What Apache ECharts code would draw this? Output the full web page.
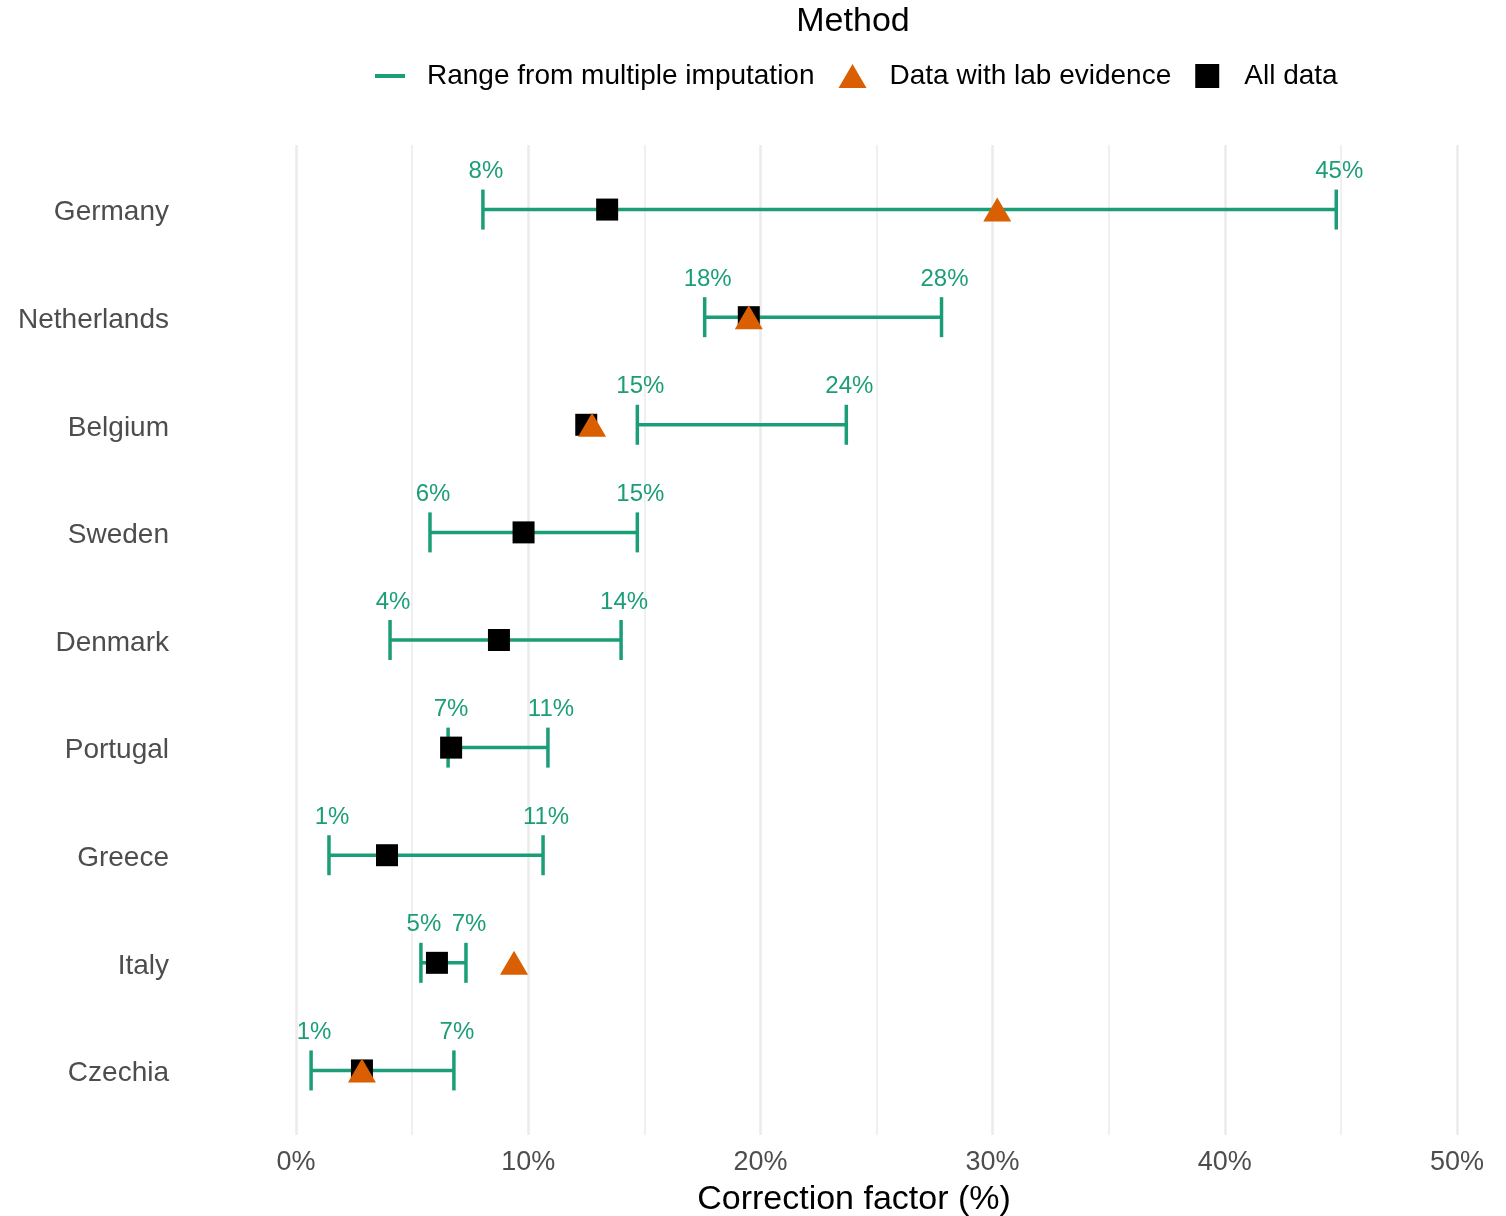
<!DOCTYPE html>
<html>
<head>
<meta charset="utf-8">
<script src="https://cdn.jsdelivr.net/npm/echarts@6/dist/echarts.min.js"></script>
<style>
html,body{margin:0;padding:0;background:#fff;}
#chart{width:1506px;height:1216px;}
</style>
</head>
<body>
<div id="chart"></div>
<script>
const categories = ['Germany','Netherlands','Belgium','Sweden','Denmark','Portugal','Greece','Italy','Czechia'];
const rangeLow  = [8.05, 17.6, 14.7, 5.77, 4.05, 6.55, 1.42, 5.38, 0.65];
const rangeHigh = [44.8, 27.8, 23.7, 14.7, 14.0, 10.85, 10.64, 7.32, 6.8];
const allData   = [13.4, 19.5, 12.5, 9.8, 8.74, 6.68, 3.92, 6.07, 2.84];
const labEvidence = [30.2, 19.5, 12.75, null, null, null, null, 9.39, 2.84];
const xTickMin = 0, xTickMax = 50, xTickStep = 10;

const GREEN = '#1b9e77', ORANGE = '#d95f02';
const FONT = "'Liberation Sans', Arial, sans-serif";

const chart = echarts.init(document.getElementById('chart'), null, {renderer:'canvas'});

const rangeData = categories.map((c, i) => [rangeLow[i], rangeHigh[i], i]);
const allPts = categories.map((c, i) => [allData[i], i]);
const labPts = categories.map((c, i) => labEvidence[i] == null ? null : [labEvidence[i], i]).filter(d => d);

const option = {
  animation: false,
  backgroundColor: '#fff',
  graphic: [
    {type:'text', x: 853, y: 22, style:{text:'Method', fill:'#000', fontSize:34, fontFamily:FONT, align:'center', verticalAlign:'middle'}},
    {type:'text', x: 854, y: 1200, style:{text:'Correction factor (%)', fill:'#000', fontSize:34, fontFamily:FONT, align:'center', verticalAlign:'middle'}}
  ],
  legend: {
    left: 375, top: 62, padding: 0,
    itemWidth: 30, itemHeight: 24, itemGap: 24,
    textStyle: {fontSize: 28, fontFamily: FONT, color: '#000', padding: [0,0,0,17]},
    data: [
      {name:'Range from multiple imputation', icon:'path://M0,0H30V4H0Z'},
      {name:'Data with lab evidence', icon:'path://M14,0L28,24L0,24Z'},
      {name:'All data', icon:'path://M0,0H22V22H0Z'}
    ]
  },
  grid: {left: 296, right: 49, top: 145, height: 990, containLabel: false},
  xAxis: {
    type: 'value', min: xTickMin, max: xTickMax, interval: xTickStep,
    axisLine: {show:false}, axisTick: {show:false},
    axisLabel: {formatter: '{value}%', fontSize: 27, fontFamily: FONT, color: '#4d4d4d', margin: 14},
    splitLine: {show:true, lineStyle:{color:'#ebebeb', width:2.5}},
    minorTick: {show:false, splitNumber: 2},
    minorSplitLine: {show:true, lineStyle:{color:'#ebebeb', width:1.5}}
  },
  yAxis: {
    type: 'value', inverse: true, min: -0.6, max: 8.6,
    axisLine: {show:false}, axisTick: {show:false}, splitLine: {show:false},
    axisLabel: {
      customValues: categories.map((c, i) => i),
      formatter: v => '{c|' + (categories[Math.round(v)] || '') + '}',
      margin: 127,
      rich: {c: {fontSize: 28, fontFamily: FONT, color: '#4d4d4d', padding: [6, 0, 0, 0]}}
    }
  },
  series: [
    {
      name: 'Range from multiple imputation',
      type: 'custom',
      itemStyle: {color: GREEN},
      data: rangeData,
      encode: {x: [0,1], y: 2},
      renderItem: (params, api) => {
        const lo = api.value(0), hi = api.value(1), idx = api.value(2);
        const p1 = api.coord([lo, idx]);
        const p2 = api.coord([hi, idx]);
        const cap = 20;
        const ls = {stroke: GREEN, lineWidth: 3.5};
        const ts = (t) => ({text: t, fill: GREEN, fontSize: 24, fontFamily: FONT, align: 'center', verticalAlign: 'middle'});
        return {
          type: 'group',
          children: [
            {type:'line', shape:{x1:p1[0], y1:p1[1], x2:p2[0], y2:p2[1]}, style: ls},
            {type:'line', shape:{x1:p1[0], y1:p1[1]-cap, x2:p1[0], y2:p1[1]+cap}, style: ls},
            {type:'line', shape:{x1:p2[0], y1:p2[1]-cap, x2:p2[0], y2:p2[1]+cap}, style: ls},
            {type:'text', x: p1[0]+3, y: p1[1]-38, style: ts(Math.round(lo) + '%')},
            {type:'text', x: p2[0]+3, y: p2[1]-38, style: ts(Math.round(hi) + '%')}
          ]
        };
      }
    },
    {
      name: 'All data',
      type: 'scatter',
      symbol: 'rect', symbolSize: 22,
      itemStyle: {color: '#000', opacity: 1},
      data: allPts
    },
    {
      name: 'Data with lab evidence',
      type: 'scatter',
      symbol: 'triangle', symbolSize: [28, 24],
      itemStyle: {color: ORANGE, opacity: 1},
      data: labPts
    }
  ]
};
chart.setOption(option);
</script>
</body>
</html>
